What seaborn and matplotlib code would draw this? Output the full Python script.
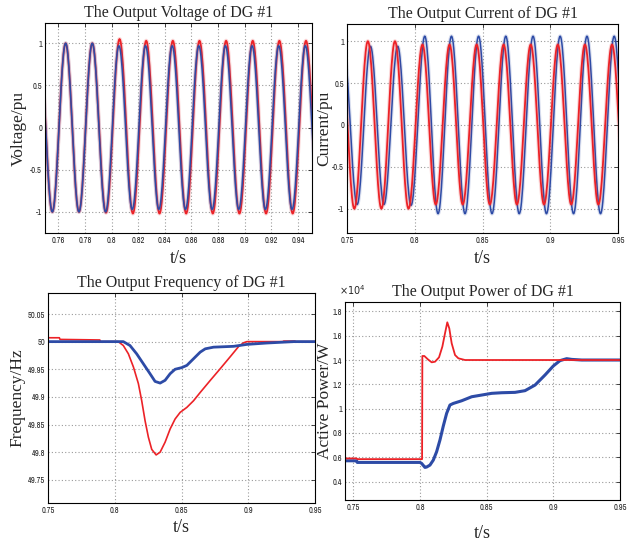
import numpy as np
import pandas as pd
import matplotlib
matplotlib.use("Agg")
import matplotlib.pyplot as plt
import seaborn as sns
from matplotlib import font_manager

RED = "#ec2227"
BLUE = "#2d4ba6"

# ---------------- data ----------------
# Voltage waveforms: successive extrema (time, value)
VOLT_BLUE_T = [0.7455, 0.7555, 0.7655, 0.7755, 0.7855, 0.7955, 0.8055, 0.8155, 0.8255, 0.8355, 0.8455,
               0.8555, 0.8655, 0.8755, 0.8855, 0.8955, 0.9055, 0.9155, 0.9255, 0.9355, 0.9455, 0.9555]
VOLT_BLUE_V = [1.0, -1.0, 1.0, -1.0, 1.0, -1.0, 0.97, -0.97, 0.97, -0.97, 0.97,
               -0.97, 0.97, -0.97, 0.97, -0.97, 0.97, -0.97, 0.97, -0.97, 0.97, -0.97]
VOLT_RED_T = [0.7455, 0.7555, 0.7655, 0.7755, 0.7855, 0.7958, 0.8060, 0.8160, 0.8260, 0.8360, 0.8460,
              0.8560, 0.8660, 0.8760, 0.8860, 0.8960, 0.9060, 0.9160, 0.9260, 0.9360, 0.9460, 0.9560]
VOLT_RED_V = [1.0, -1.0, 1.0, -1.0, 1.0, -1.01, 1.05, -1.02, 1.03, -1.02, 1.03,
              -1.02, 1.03, -1.02, 1.03, -1.02, 1.03, -1.02, 1.03, -1.02, 1.03, -1.02]

# Current waveforms: successive extrema (time, value)
CUR_RED_T = [0.7454, 0.7554, 0.7654, 0.7754, 0.7854, 0.7954, 0.8057, 0.8155, 0.8257, 0.8354, 0.8457,
             0.8554, 0.8656, 0.8754, 0.8856, 0.8954, 0.9056, 0.9155, 0.9256, 0.9355, 0.9456, 0.9556]
CUR_RED_V = [1.0, -1.0, 1.0, -1.0, 1.0, -1.0, 0.96, -0.95, 0.96, -0.95, 0.96,
             -0.95, 0.96, -0.95, 0.96, -0.95, 0.96, -0.95, 0.96, -0.95, 0.96, -0.95]
CUR_BLUE_T = [0.7473, 0.7575, 0.7673, 0.7773, 0.7874, 0.7973, 0.8074, 0.8172, 0.8271, 0.8371, 0.8471,
              0.8570, 0.8672, 0.8771, 0.8873, 0.8972, 0.9073, 0.9172, 0.9271, 0.9371, 0.9472, 0.9572]
CUR_BLUE_V = [0.94, -0.95, 0.94, -0.95, 0.94, -0.96, 1.06, -1.06, 1.06, -1.06, 1.06,
              -1.06, 1.06, -1.06, 1.06, -1.06, 1.06, -1.06, 1.06, -1.06, 1.06, -1.06]

# Frequency (Hz)
FREQ_BLUE_T = [0.75, 0.8064, 0.8114, 0.8164, 0.8214, 0.8264, 0.8302, 0.8340, 0.8377, 0.8415, 0.8452,
               0.8502, 0.8540, 0.8590, 0.8640, 0.8678, 0.8740, 0.8890, 0.8990, 0.9140, 0.9340, 0.95]
FREQ_BLUE_F = [50.0, 50.0, 49.993, 49.978, 49.960, 49.942, 49.928, 49.925, 49.930, 49.942, 49.950,
               49.953, 49.957, 49.969, 49.981, 49.987, 49.990, 49.9915, 49.995, 49.9975, 50.0, 50.0]
FREQ_RED_T = [0.75, 0.7585, 0.7590, 0.7888, 0.7893, 0.8026, 0.8064, 0.8102, 0.8140, 0.8177, 0.8202,
              0.8227, 0.8252, 0.8277, 0.8310, 0.8340, 0.8377, 0.8415, 0.8452, 0.8490, 0.8540, 0.8590,
              0.8640, 0.8716, 0.8790, 0.8866, 0.8929, 0.8966, 0.8990, 0.9140, 0.9260, 0.9265, 0.9350,
              0.9355, 0.95]
FREQ_RED_F = [50.007, 50.007, 50.004, 50.003, 50.0, 50.0, 49.993, 49.978, 49.954, 49.924, 49.893,
              49.857, 49.827, 49.805, 49.795, 49.800, 49.818, 49.842, 49.860, 49.872, 49.881, 49.893,
              49.908, 49.930, 49.951, 49.973, 49.9915, 49.998, 50.0, 50.0, 50.0, 50.001, 50.001,
              50.0, 50.0]

# Active power (W)
P_BLUE_T = [0.744, 0.7525, 0.7530, 0.8, 0.80125, 0.80375, 0.8050, 0.8075, 0.81, 0.8125, 0.815, 0.8175,
            0.82, 0.8225, 0.825, 0.8313, 0.8388, 0.8463, 0.8538, 0.8613, 0.8713, 0.8788, 0.8863,
            0.8938, 0.90, 0.905, 0.91, 0.9138, 0.92125, 0.95]
P_BLUE_P = [5715, 5715, 5580, 5580, 5500, 5170, 5200, 5360, 5770, 6460, 7420, 8570,
            9610, 10300, 10430, 10650, 10980, 11120, 11260, 11310, 11340, 11480, 11940,
            12770, 13510, 13950, 14110, 14050, 14000, 14000]
P_RED_T = [0.744, 0.7525, 0.7530, 0.8016, 0.8018, 0.8033, 0.8060, 0.8088, 0.8113, 0.8143, 0.8168,
           0.8188, 0.8205, 0.8220, 0.8238, 0.8263, 0.8288, 0.8338, 0.95]
P_RED_P = [5910, 5910, 5850, 5850, 14330, 14330, 14050, 13810, 13860, 14220, 15100,
           16200, 17100, 16600, 15370, 14410, 14140, 14000, 14000]

# ---------------- helpers ----------------
def cos_join(ts, vs, n=24):
    xs, ys = [], []
    for i in range(len(ts) - 1):
        s = np.linspace(0, 1, n, endpoint=False)
        xs.append(ts[i] + (ts[i + 1] - ts[i]) * s)
        ys.append(vs[i] + (vs[i + 1] - vs[i]) * (1 - np.cos(np.pi * s)) / 2)
    xs.append([ts[-1]]); ys.append([vs[-1]])
    return np.concatenate(xs), np.concatenate(ys)

sns.set_style("white")
serif = "Liberation Serif"

# find a condensed / narrow sans font for the tick labels, if any
cands = []
for f in font_manager.findSystemFonts():
    low = f.lower()
    if ("condensed" in low or "narrow" in low) and "bold" not in low and "oblique" not in low \
            and "italic" not in low and "light" not in low and "mono" not in low and "serif" not in low:
        cands.append(f)
cands.sort(key=lambda p: (0 if "narrow" in p.lower() else 1 if "dejavu" in p.lower() else 2, len(p)))
if cands:
    tick_fp = font_manager.FontProperties(fname=cands[0], size=6)
else:
    tick_fp = font_manager.FontProperties(family="DejaVu Sans", size=5.5)

fig = plt.figure(figsize=(6.33, 5.42), dpi=100)
fig.patch.set_facecolor("white")

W, H = 633.0, 542.0
def add_ax(l, r, t, b):
    return fig.add_axes([l / W, 1 - b / H, (r - l) / W, (b - t) / H])

ax1 = add_ax(45, 312, 23, 233)
ax2 = add_ax(347, 618, 24, 233)
ax3 = add_ax(48, 315, 293, 503)
ax4 = add_ax(345, 620, 302, 500)

def line(ax, x, y, color, lw, halo=False):
    if halo:
        sns.lineplot(x=x, y=y, ax=ax, color=color, lw=lw + 1.6, alpha=0.18,
                     estimator=None, sort=False)
    sns.lineplot(x=x, y=y, ax=ax, color=color, lw=lw, estimator=None, sort=False)

# voltage
x, y = cos_join(VOLT_RED_T, VOLT_RED_V); line(ax1, x, y, RED, 1.3, True)
x, y = cos_join(VOLT_BLUE_T, VOLT_BLUE_V); line(ax1, x, y, BLUE, 1.1, True)
# current
x, y = cos_join(CUR_BLUE_T, CUR_BLUE_V); line(ax2, x, y, BLUE, 1.1, True)
x, y = cos_join(CUR_RED_T, CUR_RED_V); line(ax2, x, y, RED, 1.3, True)
# frequency
line(ax3, FREQ_RED_T, FREQ_RED_F, RED, 1.2)
line(ax3, FREQ_BLUE_T, FREQ_BLUE_F, BLUE, 2.0)
# power
line(ax4, P_BLUE_T, P_BLUE_P, BLUE, 2.2)
line(ax4, P_RED_T, P_RED_P, RED, 1.3)

fmt = matplotlib.ticker.FuncFormatter(lambda v, p: "%g" % round(v, 4))

def style(ax, xlim, ylim, xt, yt, title, xlabel, ylabel, ylab_x, xlab_y, yfmt=None):
    ax.set_xlim(*xlim); ax.set_ylim(*ylim)
    ax.set_xticks(xt); ax.set_yticks(yt)
    ax.xaxis.set_major_formatter(fmt)
    ax.yaxis.set_major_formatter(yfmt if yfmt is not None else fmt)
    ax.grid(True, color="#9a9a9a", linestyle=(0, (1, 2)), lw=0.8)
    for s in ax.spines.values():
        s.set_color("black"); s.set_linewidth(0.8)
    ax.tick_params(direction="in", length=3, width=0.6, top=True, right=True, pad=2.5)
    ax.tick_params(axis="y", pad=2)
    for lab in ax.get_xticklabels() + ax.get_yticklabels():
        lab.set_fontproperties(tick_fp)
    ax.set_title(title, family=serif, fontsize=11.5, pad=4)
    ax.set_xlabel(xlabel, family=serif, fontsize=13)
    ax.set_ylabel(ylabel, family=serif, fontsize=12.5)
    ax.xaxis.label.set_va("center")
    ax.yaxis.label.set_va("center")
    ax.yaxis.set_label_coords(ylab_x, 0.5)
    ax.xaxis.set_label_coords(0.5, xlab_y)

style(ax1, (0.75, 0.9505), (-1.25, 1.24),
      [0.76, 0.78, 0.80, 0.82, 0.84, 0.86, 0.88, 0.90, 0.92, 0.94],
      [-1, -0.5, 0, 0.5, 1],
      "The Output Voltage of DG #1", "t/s", "Voltage/pu", -26 / 267, -25 / 210)
style(ax2, (0.75, 0.95), (-1.29, 1.205),
      [0.75, 0.80, 0.85, 0.90, 0.95], [-1, -0.5, 0, 0.5, 1],
      "The Output Current of DG #1", "t/s", "Current/pu", -23 / 271, -25 / 209)
style(ax3, (0.75, 0.95), (49.708, 50.088),
      [0.75, 0.80, 0.85, 0.90, 0.95], [49.75, 49.8, 49.85, 49.9, 49.95, 50.0, 50.05],
      "The Output Frequency of DG #1", "t/s", "Frequency/Hz", -31 / 267, -25 / 210)
pfmt = matplotlib.ticker.FuncFormatter(lambda v, p: "%g" % round(v / 1e4, 3))
style(ax4, (0.7438, 0.95), (2490, 18770),
      [0.75, 0.80, 0.85, 0.90, 0.95],
      [4000, 6000, 8000, 10000, 12000, 14000, 16000, 18000],
      "The Output Power of DG #1", "t/s", "Active Power/W", -20 / 275, -33 / 198, yfmt=pfmt)
ax4.text(0.025, 1.025, r"$\times10^{4}$", transform=ax4.transAxes, fontsize=7,
         ha="center", va="bottom")

fig.savefig("out.png", dpi=100, facecolor="white")
